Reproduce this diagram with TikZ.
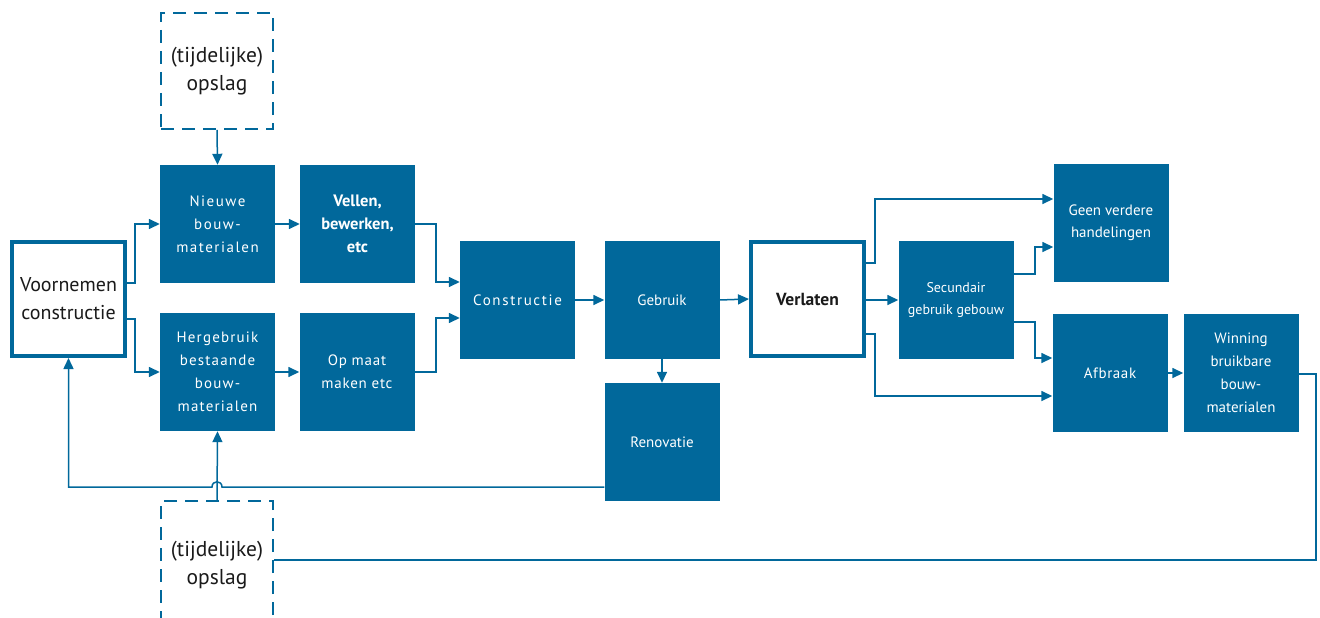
\documentclass[tikz,border=0pt]{standalone}
\usepackage{fontspec}
\setmainfont{PT Sans}
\usetikzlibrary{arrows.meta}
\definecolor{rb}{HTML}{01689B}
\definecolor{tx}{HTML}{1A1A1A}
\begin{document}
\begin{tikzpicture}[x=1pt,y=-1pt,
 box/.style={fill=rb,draw=none,text=white,minimum width=115pt,minimum height=118pt,inner sep=2pt,align=center,font=\fontsize{15}{23}\selectfont},
 spaced/.style={font=\fontsize{15}{23}\selectfont\addfontfeatures{LetterSpace=#1}},
 thickbox/.style={fill=white,draw=rb,line width=4pt,text=tx,minimum width=113pt,minimum height=114pt,inner sep=2pt,align=center,font=\fontsize{20}{28}\selectfont},
 dashbox/.style={draw=rb,line width=1.8pt,dash pattern=on 13pt off 8pt,text=tx,minimum width=112pt,inner sep=2pt,align=center,font=\fontsize{21.5}{28}\selectfont},
 ln/.style={draw=rb,line width=1.5pt},
 arr/.style={ln,-{Triangle[length=11pt,width=10pt]}}
]
\useasboundingbox (0,0) rectangle (1320,618);

\node[dashbox,minimum height=116pt] (op1) at (217,71) {(tijdelijke)\\opslag};
\node[dashbox,minimum height=128pt] (op2) at (217,565) {(tijdelijke)\\opslag};

\node[box,spaced=10] (nieuw) at (217.5,224) {Nieuwe\\bouw-\\materialen};
\node[box,font=\fontsize{16.5}{23}\selectfont\bfseries] (vellen) at (357.5,224) {Vellen,\\bewerken,\\etc};
\node[thickbox] (voor) at (68.5,299) {Voornemen\\constructie};
\node[box,spaced=8] (herg) at (217.5,372) {Hergebruik\\bestaande\\bouw-\\materialen};
\node[box,spaced=5] (opmaat) at (357,372) {Op maat\\maken etc};
\node[box,spaced=11] (constr) at (517.5,300) {Constructie};
\node[box] (gebr) at (662,300) {Gebruik};
\node[box] (renov) at (662,442) {Renovatie};
\node[thickbox,font=\fontsize{17.5}{22}\selectfont\bfseries] (verl) at (807.5,299) {Verlaten};
\node[box,font=\fontsize{14}{22}\selectfont] (sec) at (956,300) {Secundair\\gebruik gebouw};
\node[box,font=\fontsize{15}{22}\selectfont] (geen) at (1111,223) {Geen verdere\\handelingen};
\node[box,spaced=4] (afb) at (1110,373) {Afbraak};
\node[box] (win) at (1241,373) {Winning\\bruikbare\\bouw-\\materialen};

% connectors
\draw[arr] (op1.south) -- (nieuw.north);
\draw[arr] (op2.north) -- (herg.south);
\draw[arr] (voor.east |- 0,283) -- (135,283) |- (nieuw.west);
\draw[arr] (voor.east |- 0,319) -- (135,319) |- (herg.west);
\draw[arr] (nieuw.east) -- (vellen.west);
\draw[arr] (herg.east) -- (opmaat.west);
\draw[arr] (vellen.east) -- (436,224) |- (constr.west |- 0,282);
\draw[arr] (opmaat.east) -- (436,372) |- (constr.west |- 0,318);
\draw[arr] (constr.east) -- (gebr.west);
\draw[arr] (gebr.east) -- (verl.west);
\draw[arr] (gebr.south) -- (renov.north);
\draw[arr] (renov.west |- 0,487) -- (222,487) .. controls (222,480) and (212,480) .. (212,487) -| (voor.south);
\draw[arr] (verl.east |- 0,263) -- (875,263) |- (geen.west |- 0,199);
\draw[arr] (verl.east |- 0,300) -- (sec.west);
\draw[arr] (verl.east |- 0,334) -- (875,334) |- (afb.west |- 0,396);
\draw[arr] (sec.east |- 0,274) -- (1035,274) |- (geen.west |- 0,247);
\draw[arr] (sec.east |- 0,322) -- (1035,322) |- (afb.west |- 0,358);
\draw[arr] (afb.east) -- (win.west);
\draw[ln] (win.east |- 0,374) -- (1316,374) |- (op2.east |- 0,560);
\end{tikzpicture}
\end{document}
